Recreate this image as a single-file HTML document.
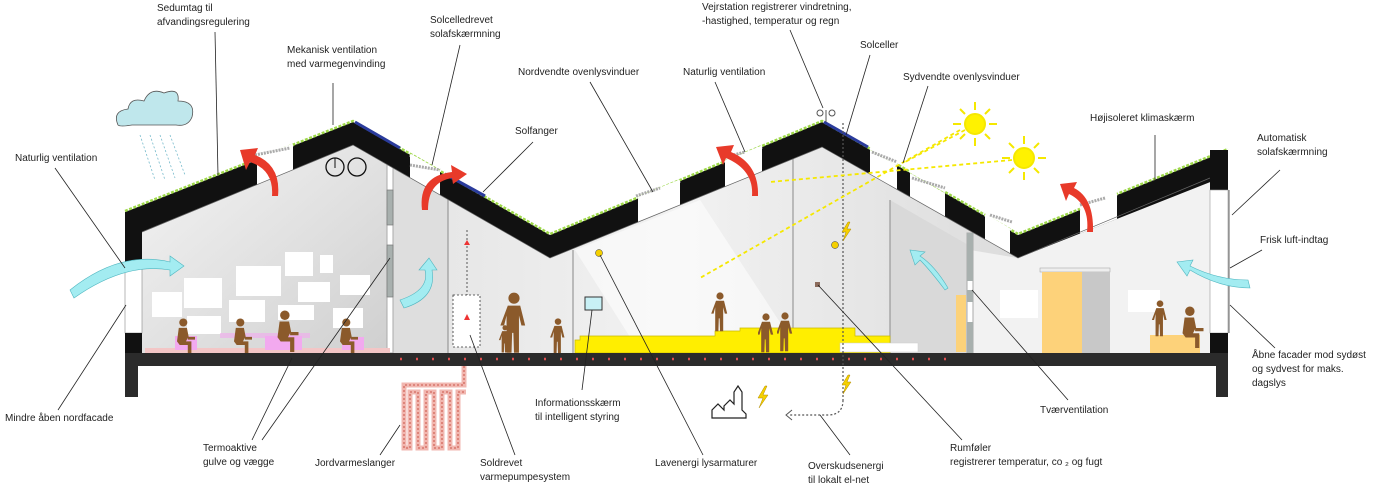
<!DOCTYPE html>
<html><head><meta charset="utf-8"><style>
html,body{margin:0;padding:0;background:#fff}
svg{display:block}
text{font-family:"Liberation Sans Narrow","Liberation Sans",sans-serif;font-size:10px;fill:#222}
</style></head><body>
<svg width="1400" height="491" viewBox="0 0 1400 491" xmlns="http://www.w3.org/2000/svg">
<defs>
<linearGradient id="g1" x1="0" y1="0" x2="1" y2="1"><stop offset="0" stop-color="#f4f4f4"/><stop offset="0.5" stop-color="#e2e2e2"/><stop offset="1" stop-color="#cfcfcf"/></linearGradient>
<linearGradient id="g2" x1="0" y1="0" x2="1" y2="0"><stop offset="0" stop-color="#d8d8d8"/><stop offset="0.5" stop-color="#f2f2f2"/><stop offset="1" stop-color="#d0d0d0"/></linearGradient>
<clipPath id="roofclip"><polygon points="125,212 353,122 550,235 822,122 1018,235 1228,150 1228,175 1018,258 822,147 550,258 353,145 142,232 125,232"/></clipPath>
<symbol id="stand" viewBox="0 0 20 50"><circle cx="10" cy="5" r="4.5"/><path d="M5,11 h10 l4,16 h-3 l-2,-8 v30 h-4 l-0.5,-16 h-1 l-0.5,16 h-4 v-30 l-2,8 h-3z"/></symbol>
<symbol id="sit" viewBox="0 0 24 40"><circle cx="9" cy="5" r="4.5"/><path d="M4,11 h9 l2,10 h7 v3 h-8 v-2 l-2,4 h6 v14 h-4 v-10 h-9 l-3,-4z"/></symbol>
</defs>

<polygon points="142,232 353,145 550,258 822,147 1018,258 1210,178 1210,353 142,353" fill="url(#g2)"/>
<polygon points="142,232 353,145 390,166 390,353 142,353" fill="url(#g1)"/>
<polygon points="575,250 700,200 800,353 640,353" fill="#fff" opacity="0.55"/>
<polygon points="390,166 448,198 448,353 390,353" fill="#dedede"/>
<polygon points="970,250 1018,258 1210,178 1210,353 970,353" fill="#f2f2f2"/>
<polygon points="890,200 970,246 970,353 890,353" fill="#d9d9d9"/>
<g stroke="#999" stroke-width="1.2"><line x1="448" y1="198" x2="448" y2="353"/><line x1="573" y1="250" x2="573" y2="353"/><line x1="793" y1="150" x2="793" y2="353"/><line x1="890" y1="200" x2="890" y2="353"/></g>
<rect x="387" y="165" width="6" height="188" fill="#fff" stroke="#aaa"/>
<rect x="387" y="190" width="6" height="35" fill="#a8b0ae" stroke="#777" stroke-width="0.7"/>
<rect x="387" y="245" width="6" height="52" fill="#a8b0ae" stroke="#777" stroke-width="0.7"/>
<rect x="967" y="233" width="6" height="120" fill="#fff" stroke="#aaa"/>
<rect x="967" y="233" width="6" height="48" fill="#a8b0ae"/><rect x="967" y="290" width="6" height="12" fill="#a8b0ae"/><rect x="967" y="322" width="6" height="31" fill="#a8b0ae"/>
<rect x="956" y="295" width="10" height="57" fill="#fcd27a"/>

<g fill="#fff"><rect x="152" y="292" width="30" height="25"/><rect x="184" y="278" width="38" height="30"/><rect x="236" y="266" width="45" height="30"/><rect x="285" y="252" width="28" height="24"/><rect x="320" y="255" width="13" height="18"/><rect x="298" y="282" width="32" height="20"/><rect x="340" y="275" width="30" height="20"/><rect x="229" y="300" width="36" height="22"/><rect x="278" y="305" width="36" height="15"/><rect x="333" y="308" width="30" height="20"/><rect x="187" y="316" width="34" height="18"/><rect x="1000" y="290" width="38" height="28"/><rect x="1128" y="290" width="32" height="22"/></g>

<rect x="145" y="348" width="245" height="5" fill="#f3c6c6"/>
<g fill="#f2a9ef"><rect x="175" y="336" width="22" height="14"/><rect x="220" y="333" width="90" height="5" opacity="0.6"/><rect x="265" y="336" width="22" height="14"/><rect x="280" y="336" width="22" height="14"/><rect x="342" y="337" width="22" height="13"/></g>
<polygon points="575,353 575,340 580,340 580,336 715,336 715,331 740,331 740,328 855,328 855,336 890,336 890,353" fill="#ffee00" stroke="#c9b800" stroke-width="0.7"/>
<rect x="840" y="343" width="78" height="9" fill="#fff" stroke="#ccc" stroke-width="0.5"/>
<rect x="1040" y="268" width="70" height="4" fill="#eee" stroke="#aaa" stroke-width="0.6"/>
<rect x="1042" y="272" width="40" height="81" fill="#fdd27a"/>
<rect x="1082" y="272" width="28" height="81" fill="#c8c8c8"/>
<rect x="1150" y="335" width="50" height="18" fill="#fdd27a"/>

<g fill="#8b5a2b">
<use href="#sit" x="175" y="318" width="22" height="36"/>
<use href="#sit" x="232" y="318" width="22" height="36"/>
<use href="#sit" x="275" y="310" width="26" height="42"/>
<use href="#sit" x="338" y="318" width="22" height="36"/>
<use href="#stand" x="500" y="292" width="28" height="62"/>
<use href="#stand" x="498" y="325" width="14" height="28"/>
<use href="#stand" x="548" y="318" width="20" height="36"/>
<use href="#stand" x="710" y="292" width="20" height="40"/>
<use href="#stand" x="758" y="313" width="16" height="40"/>
<use href="#stand" x="777" y="311" width="16" height="42"/>
<use href="#stand" x="1150" y="300" width="20" height="37"/>
<use href="#sit" x="1180" y="306" width="26" height="42"/>
</g>

<polygon points="125,212 353,122 550,235 822,122 1018,235 1228,150 1228,175 1018,258 822,147 550,258 353,145 142,232 125,232" fill="#111"/>
<g clip-path="url(#roofclip)" fill="#fff"><rect x="257" y="100" width="36" height="200"/><rect x="410" y="100" width="30" height="200"/><rect x="638" y="100" width="42" height="200"/><rect x="725" y="100" width="37" height="200"/><rect x="870" y="100" width="27" height="200"/><rect x="910" y="100" width="35" height="200"/><rect x="985" y="100" width="25" height="200"/><rect x="1080" y="100" width="37" height="200"/></g>
<polyline points="142,232 353,145 550,258 822,147 1018,258 1210,178" fill="none" stroke="#666" stroke-width="0.7"/>
<polyline points="125,211 353,121 550,234 822,121 1018,234 1228,149" fill="none" stroke="#9ed84a" stroke-width="2.5" stroke-dasharray="3,1.5"/>
<g stroke="#fff" stroke-width="3"><line x1="257" y1="159" x2="293" y2="145"/><line x1="410" y1="155" x2="440" y2="172"/><line x1="638" y1="198" x2="680" y2="181"/><line x1="725" y1="162" x2="762" y2="147"/><line x1="870" y1="148" x2="897" y2="164"/><line x1="910" y1="171" x2="945" y2="191"/><line x1="985" y1="215" x2="1010" y2="230"/><line x1="1080" y1="209" x2="1117" y2="194"/></g>
<g stroke="#2a3b9c" stroke-width="3"><line x1="355" y1="122" x2="400" y2="148"/><line x1="445" y1="174" x2="485" y2="196"/><line x1="824" y1="122" x2="868" y2="147"/></g>
<g stroke="#aaa" stroke-width="3" stroke-dasharray="2,1"><line x1="255" y1="155" x2="290" y2="148"/><line x1="410" y1="165" x2="440" y2="170"/><line x1="636" y1="196" x2="660" y2="188"/><line x1="722" y1="158" x2="745" y2="152"/><line x1="872" y1="152" x2="897" y2="162"/><line x1="912" y1="178" x2="945" y2="188"/><line x1="990" y1="215" x2="1012" y2="222"/><line x1="1080" y1="205" x2="1105" y2="198"/></g>
<rect x="125" y="215" width="17" height="47" fill="#111"/>
<rect x="125" y="262" width="17" height="71" fill="#fff" stroke="#888" stroke-width="0.6"/>
<rect x="125" y="333" width="17" height="20" fill="#111"/>
<rect x="1210" y="150" width="18" height="40" fill="#111"/>
<rect x="1210" y="190" width="18" height="143" fill="#fff" stroke="#999" stroke-width="0.6"/>
<line x1="1229" y1="190" x2="1229" y2="333" stroke="#666"/>
<rect x="1210" y="333" width="18" height="20" fill="#111"/>
<rect x="125" y="353" width="1103" height="13" fill="#2b2b2b"/>
<rect x="125" y="366" width="13" height="31" fill="#2b2b2b"/>
<rect x="1216" y="366" width="12" height="31" fill="#2b2b2b"/>
<line x1="400" y1="359" x2="960" y2="359" stroke="#e05050" stroke-width="2.5" stroke-dasharray="2,14"/>
<path d="M464,366 V385 H404 V448 H410 V392 H418 V448 H426 V392 H434 V448 H442 V392 H450 V448 H458 V392 H466" fill="none" stroke="#f1b7b0" stroke-width="5"/>
<path d="M464,366 V385 H404 V448 H410 V392 H418 V448 H426 V392 H434 V448 H442 V392 H450 V448 H458 V392 H466" fill="none" stroke="#c0392b" stroke-width="0.8" stroke-dasharray="2,2"/>
<rect x="453" y="295" width="27" height="52" fill="#fff" stroke="#333" stroke-dasharray="2,2" stroke-width="0.8"/>
<line x1="467" y1="230" x2="467" y2="295" stroke="#333" stroke-dasharray="2,2" stroke-width="0.8"/>
<path d="M464,245 l3,-5 3,5 z M464,320 l3,-6 3,6z" fill="#e33"/>
<circle cx="335" cy="167" r="9" fill="none" stroke="#111" stroke-width="1.3"/><circle cx="357" cy="167" r="9" fill="none" stroke="#111" stroke-width="1.3"/><line x1="335" y1="158" x2="335" y2="168" stroke="#111"/>
<rect x="585" y="297" width="17" height="13" fill="#c8f0f5" stroke="#333"/>
<line x1="843" y1="123" x2="843" y2="400" stroke="#555" stroke-dasharray="2,2" stroke-width="1.2"/>
<path d="M843,400 q0,15 -15,15 h-38" fill="none" stroke="#555" stroke-dasharray="2,2" stroke-width="1.2"/>
<path d="M792,410 l-6,5 6,5" fill="none" stroke="#555" stroke-width="1"/>
<g stroke="#555" fill="none"><circle cx="820" cy="113" r="3"/><circle cx="832" cy="113" r="3"/><line x1="826" y1="110" x2="826" y2="122"/></g>
<path d="M712,418 v-8 l6,-6 6,6 v-4 l6,-6 4,4 v-12 l4,-6 4,6 v18 l4,4 v4 z" fill="#fff" stroke="#222" stroke-width="1.2"/>
<g fill="#f5d000" stroke="#b08a00" stroke-width="0.5"><path d="M765,386 l-7,12 h5 l-4,10 9,-13 h-5 l4,-9z"/><path d="M848,375 l-6,10 h4 l-3,9 8,-12 h-4 l3,-7z"/><path d="M848,222 l-6,10 h4 l-3,9 8,-12 h-4 l3,-7z"/></g>
<circle cx="835" cy="245" r="3.5" fill="#f5d000" stroke="#333" stroke-width="0.5"/>
<circle cx="599" cy="253" r="3.5" fill="#f5d000" stroke="#333" stroke-width="0.5"/>
<rect x="815" y="282" width="5" height="5" fill="#8b6b5b"/>
<path d="M118,125 q-6,-14 10,-16 q2,-12 16,-8 q6,-14 20,-8 q16,-6 14,8 q18,0 14,16 q-4,10 -16,8 h-44 q-12,2 -14,0z" fill="#bfe7ec" stroke="#555" stroke-width="0.8"/>
<g stroke="#7bc" stroke-width="0.8" stroke-dasharray="2,2"><line x1="140" y1="135" x2="155" y2="180"/><line x1="150" y1="135" x2="165" y2="180"/><line x1="160" y1="135" x2="175" y2="178"/><line x1="170" y1="135" x2="185" y2="175"/></g>
<g stroke="#f5e800" stroke-width="2"><circle cx="975" cy="124" r="10" fill="#fff200"/><circle cx="1024" cy="158" r="10" fill="#fff200"/>
<path d="M975,102 v8 M975,138 v8 M953,124 h8 M989,124 h8 M960,109 l5,5 M985,134 l5,5 M990,109 l-5,5 M965,134 l-5,5"/>
<path d="M1024,136 v8 M1024,172 v8 M1002,158 h8 M1038,158 h8 M1009,143 l5,5 M1034,168 l5,5 M1039,143 l-5,5 M1014,168 l-5,5"/></g>
<g stroke="#f5e800" stroke-width="1.8" stroke-dasharray="4,3" fill="none"><line x1="960" y1="130" x2="700" y2="278"/><line x1="1012" y1="160" x2="770" y2="182"/><line x1="965" y1="130" x2="905" y2="162"/></g>
<!-- red arrows -->
<g fill="#e83a2a">
<path d="M272,196 q2,-26 -22,-34 l-4,8 -6,-20 18,-2 -3,7 q26,10 23,41z"/>
<path d="M422,210 q-4,-34 30,-38 l-1,-7 16,9 -14,10 -1,-6 q-24,4 -24,32z"/>
<path d="M752,196 q2,-26 -26,-38 l-3,7 -7,-18 18,-2 -3,7 q28,12 27,44z"/>
<path d="M1087,232 q3,-28 -18,-38 l-3,7 -6,-17 17,-2 -3,6 q20,10 19,44z"/>
</g>
<g fill="#a3ecf1" stroke="#4fb6c0" stroke-width="0.6">
<path d="M70,290 q50,-40 100,-28 v-6 l14,10 -14,10 v-6 q-45,-8 -96,28z"/>
<path d="M400,300 q30,-10 25,-30 l-6,0 10,-12 8,12 -5,0 q5,28 -28,38z"/>
<path d="M945,290 q-15,-20 -25,-30 l-5,5 -5,-15 15,2 -5,4 q15,10 28,32z"/>
<path d="M1250,288 q-30,0 -60,-18 l-3,6 -10,-14 16,-2 -3,6 q28,14 58,14z"/>
</g>

<g stroke="#222" stroke-width="0.8" fill="none">
<line x1="215" y1="32" x2="218" y2="175"/>
<line x1="333" y1="83" x2="333" y2="125"/>
<line x1="460" y1="45" x2="432" y2="165"/>
<line x1="533" y1="142" x2="483" y2="192"/>
<line x1="590" y1="82" x2="653" y2="192"/>
<line x1="715" y1="82" x2="745" y2="152"/>
<line x1="790" y1="30" x2="823" y2="108"/>
<line x1="870" y1="55" x2="846" y2="135"/>
<line x1="928" y1="86" x2="903" y2="163"/>
<line x1="1155" y1="135" x2="1155" y2="180"/>
<line x1="1280" y1="170" x2="1232" y2="215"/>
<line x1="55" y1="168" x2="125" y2="268"/>
<line x1="1262" y1="250" x2="1230" y2="268"/>
<line x1="1275" y1="348" x2="1230" y2="305"/>
<line x1="58" y1="410" x2="126" y2="305"/>
<line x1="252" y1="440" x2="292" y2="358"/>
<line x1="262" y1="440" x2="390" y2="258"/>
<line x1="380" y1="455" x2="400" y2="425"/>
<line x1="515" y1="455" x2="470" y2="335"/>
<line x1="582" y1="390" x2="592" y2="310"/>
<line x1="703" y1="455" x2="600" y2="255"/>
<line x1="850" y1="455" x2="820" y2="415"/>
<line x1="962" y1="440" x2="818" y2="285"/>
<line x1="1068" y1="400" x2="972" y2="290"/>
</g>

<text x="157" y="11">Sedumtag til</text><text x="157" y="25">afvandingsregulering</text>
<text x="287" y="53">Mekanisk ventilation</text><text x="287" y="67">med varmegenvinding</text>
<text x="430" y="23">Solcelledrevet</text><text x="430" y="37">solafskærmning</text>
<text x="515" y="134">Solfanger</text>
<text x="518" y="75">Nordvendte ovenlysvinduer</text>
<text x="683" y="75">Naturlig ventilation</text>
<text x="702" y="10">Vejrstation registrerer vindretning,</text><text x="702" y="24">-hastighed, temperatur og regn</text>
<text x="860" y="48">Solceller</text>
<text x="903" y="80">Sydvendte ovenlysvinduer</text>
<text x="1090" y="121">Højisoleret klimaskærm</text>
<text x="1257" y="141">Automatisk</text><text x="1257" y="155">solafskærmning</text>
<text x="15" y="161">Naturlig ventilation</text>
<text x="1260" y="243">Frisk luft-indtag</text>
<text x="1252" y="358">Åbne facader mod sydøst</text><text x="1252" y="372">og sydvest for maks.</text><text x="1252" y="386">dagslys</text>
<text x="5" y="421">Mindre åben nordfacade</text>
<text x="203" y="451">Termoaktive</text><text x="203" y="465">gulve og vægge</text>
<text x="315" y="466">Jordvarmeslanger</text>
<text x="480" y="466">Soldrevet</text><text x="480" y="480">varmepumpesystem</text>
<text x="535" y="406">Informationsskærm</text><text x="535" y="420">til intelligent styring</text>
<text x="655" y="466">Lavenergi lysarmaturer</text>
<text x="808" y="469">Overskudsenergi</text><text x="808" y="483">til lokalt el-net</text>
<text x="950" y="451">Rumføler</text><text x="950" y="465">registrerer temperatur, co ₂ og fugt</text>
<text x="1040" y="413">Tværventilation</text>
</svg>
</body></html>
